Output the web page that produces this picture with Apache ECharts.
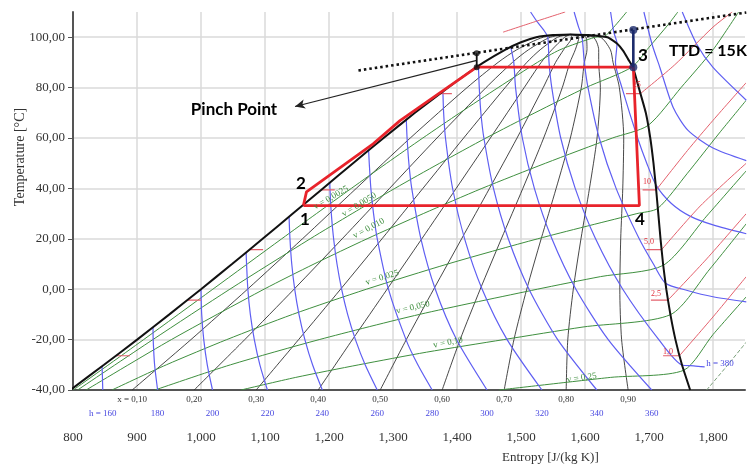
<!DOCTYPE html>
<html><head><meta charset="utf-8">
<script src="https://cdn.jsdelivr.net/npm/echarts@6/dist/echarts.min.js"></script>
<style>html,body{margin:0;padding:0;background:#fff}#c{width:749px;height:467px}</style>
</head><body><div id="c"></div>
<script>
// ---- axis ticks ----
const xTicks = [800, 900, 1000, 1100, 1200, 1300, 1400, 1500, 1600, 1700, 1800];
const yTicks = [-40, -20, 0, 20, 40, 60, 80, 100];

// ---- saturation dome [s J/(kg K), T °C] ----
const satLiquid = [[795.6,-40],[848.5,-30],[900.2,-20],[950.6,-10],[1000,0],[1048.5,10],[1096.3,20],[1143.5,30],[1190.5,40],[1237.6,50],[1285.3,60],[1334.3,70],[1385.9,80],[1413,85],[1441.7,90],[1475,95],[1500,98],[1523.8,100],[1550,100.9],[1577,101.1]];
const satVapor = [[1577,101.1],[1605,100.9],[1635,100],[1650,97.5],[1660,94.5],[1668,91],[1675,88],[1684,80],[1695,70],[1702,60],[1707,50],[1711,40],[1714.5,30],[1718,20],[1722,10],[1727,0],[1733.4,-10],[1741.3,-20],[1751.5,-30],[1764.3,-40]];

// ---- quality lines x = 0.1 ... 0.9 ----
const q10 = [[892.5,-40],[984.3,-20],[1072.7,0],[1158.5,20],[1242.6,40],[1327.0,60],[1415.7,80],[1464.2,90],[1493.3,95],[1534.9,100],[1577,101.1]];
const q20 = [[989.3,-40],[1068.4,-20],[1145.4,0],[1220.6,20],[1294.6,40],[1368.7,60],[1445.4,80],[1486.6,90],[1511.6,95],[1546.0,100],[1577,101.1]];
const q30 = [[1086.2,-40],[1152.5,-20],[1218.1,0],[1282.8,20],[1346.7,40],[1410.4,60],[1475.2,80],[1509.1,90],[1529.9,95],[1557.2,100],[1577,101.1]];
const q40 = [[1183.1,-40],[1236.6,-20],[1290.8,0],[1345.0,20],[1398.7,40],[1452.1,60],[1505.0,80],[1531.5,90],[1548.2,95],[1568.3,100],[1577,101.1]];
const q50 = [[1280.0,-40],[1320.8,-20],[1363.6,0],[1407.2,20],[1450.8,40],[1493.8,60],[1534.7,80],[1554.0,90],[1566.5,95],[1579.4,100],[1577,101.1]];
const q60 = [[1376.8,-40],[1404.9,-20],[1436.3,0],[1469.3,20],[1502.9,40],[1535.4,60],[1564.5,80],[1576.5,90],[1584.8,95],[1590.5,100],[1577,101.1]];
const q70 = [[1473.7,-40],[1489.0,-20],[1509.0,0],[1531.5,20],[1554.9,40],[1577.1,60],[1594.2,80],[1598.9,90],[1603.1,95],[1601.6,100],[1577,101.1]];
const q80 = [[1570.6,-40],[1573.1,-20],[1581.7,0],[1593.7,20],[1607.0,40],[1618.8,60],[1624.0,80],[1621.4,90],[1621.4,95],[1612.8,100],[1577,101.1]];
const q90 = [[1667.4,-40],[1657.2,-20],[1654.4,0],[1655.8,20],[1659.0,40],[1660.5,60],[1653.7,80],[1643.8,90],[1639.7,95],[1623.9,100],[1577,101.1]];
const qualityLabels = ['x = 0,10','0,20','0,30','0,40','0,50','0,60','0,70','0,80','0,90'];

// ---- isenthalps h (kJ/kg) ----
const h160 = [[845.4,-30.6],[846.0,-35],[846.5,-40]];
const h180 = [[925,-15.1],[925.3,-20],[927.5,-30],[932.2,-40]];
const h200 = [[1000,0],[1001.1,-10],[1004.3,-20],[1009.8,-30],[1018.0,-40]];
const h220 = [[1070.5,14.6],[1071.2,10],[1073.2,0],[1077.1,-10],[1083.3,-20],[1092.0,-30],[1103.8,-40]];
const h240 = [[1137.6,28.7],[1139.0,20],[1141.8,10],[1146.4,0],[1153.1,-10],[1162.3,-20],[1174.3,-30],[1189.6,-40]];
const h260 = [[1201.3,42.3],[1201.5,40],[1203.6,30],[1207.2,20],[1212.5,10],[1219.7,0],[1229.1,-10],[1241.3,-20],[1256.5,-30],[1275.4,-40]];
const h280 = [[1261.9,55.1],[1262.9,50],[1265.4,40],[1269.6,30],[1275.4,20],[1292.9,0],[1320.3,-20],[1338.8,-30],[1361.2,-40]];
const h300 = [[1320.8,67.2],[1322.0,60],[1324.8,50],[1329.3,40],[1343.6,20],[1366.1,0],[1399.3,-20],[1446.9,-40]];
const h320 = [[1378,78.5],[1379.1,70],[1382.0,60],[1393.1,40],[1411.9,20],[1439.3,0],[1478.3,-20],[1532.7,-40]];
const h340 = [[1433.5,88.5],[1434.8,80],[1437.3,70],[1442.0,60],[1457.0,40],[1480.1,20],[1512.5,0],[1557.3,-20],[1618.5,-40]];
const h360 = [[1484,96.2],[1488.7,90],[1491.5,80],[1502.1,60],[1520.9,40],[1548.3,20],[1585.8,0],[1636.3,-20],[1704.3,-40]];
const h380 = [[1515,110],[1524,106.6],[1535,103],[1541.8,100],[1543.8,90],[1548.1,80],[1562.1,60],[1584.7,40],[1616.5,20],[1659.0,0],[1715.3,-20],[1751.7,-30.1],[1770,-30.4],[1787,-30.8]];
const h400 = [[1583,110],[1590,104],[1595.4,100],[1598.9,90],[1604.7,80],[1622.2,60],[1648.6,40],[1684.7,20],[1706.9,10],[1725.9,2.4],[1760,-0.5],[1800,-3],[1852,-5]];
const h420 = [[1640,110],[1645,102],[1650,97.5],[1647.6,90],[1657.7,80],[1682.2,60],[1696.5,50],[1711,41.3],[1735,34],[1764,29],[1800,25.5],[1852,22]];
const h440 = [[1692,110],[1705,97],[1717,88],[1738,72],[1761,63],[1800,56],[1852,51]];
const h460 = [[1752,110],[1775,97],[1800,88],[1852,75]];
const hLabels = ['h = 160','180','200','220','240','260','280','300','320','340','360'];

// ---- isochores v (m3/kg) ----
const v0025 = [[800.4,-40],[910.4,-20],[1018.5,0],[1126.1,20],[1180.4,30],[1234.9,40],[1290.2,50],[1346.6,60],[1404.6,70],[1464.3,80],[1525.6,90],[1560.8,95],[1615.9,100],[1630,100.3],[1645,104],[1665,110]];
const v0050 = [[807.2,-40],[924.8,-20],[1045.1,0],[1170.6,20],[1236.1,30],[1302.9,40],[1373.0,50],[1445.3,60],[1521.7,70],[1601.3,80],[1673,88.1],[1700,96],[1730,105],[1745,110]];
const v0100 = [[820.6,-40],[953.7,-20],[1098.5,0],[1176.6,10],[1259.5,20],[1347.3,30],[1439.0,40],[1538.4,50],[1642.9,60],[1698.6,65],[1750,80],[1800,95],[1840,110]];
const v0250 = [[860.9,-40],[945.9,-30],[1040.3,-20],[1143.0,-10],[1258.6,0],[1385.4,10],[1526.1,20],[1681.1,30],[1713.8,32.1],[1760,46],[1810,62],[1852,75]];
const v0500 = [[928.1,-40],[1046.1,-30],[1184.7,-20],[1341.4,-10],[1525.6,0],[1624.3,5],[1722.3,9.5],[1790,29],[1852,47]];
const v1000 = [[1062.6,-40],[1148,-35],[1246.6,-30],[1352.2,-25],[1473.0,-20],[1596.9,-15],[1733.5,-10.1],[1795,8],[1852,26]];
const v2500 = [[1465.9,-40],[1640,-35],[1754,-32.2],[1800,-18],[1852,-3]];
const v5000 = [[1790,-40],[1820,-31],[1852,-21]];
const vLabels = ['v = 0,0025','v = 0,0050','v = 0,010','v = 0,025','v = 0,050','v = 0,10','v = 0,25'];
const vLabelAt = [[1203,36.3],[1247,33.5],[1262,24.1],[1283,4.6],[1331,-7.3],[1386,-21.2],[1595,-35.2]];
const vLabelTilt = [30, 31, 28, 17, 13, 11, 8];

// ---- isobars p (bar) ----
const pTicksLiquid = [[[867,-26.4],[889,-26.4]],[[978.7,-4.3],[1000,-4.3]],[[1075.8,15.7],[1097,15.7]],[[1187.7,39.4],[1209,39.4]],[[1373,77.6],[1392,77.6]]];
const pTicksVapor = [[[1722,-26.4],[1747.6,-26.4]],[[1703,-4.3],[1729.8,-4.3]],[[1696,15.7],[1719.7,15.7]],[[1690,39.4],[1711.3,39.4]],[[1664,77.6],[1686.5,77.6]]];
const p1_0 = [[1747.6,-26.4],[1800,-11],[1852,5]];
const p2_5 = [[1729.8,-4.3],[1790,12],[1852,30]];
const p5_0 = [[1719.7,15.7],[1780,33],[1852,50]];
const p10 = [[1711.3,39.4],[1760,55],[1800,67],[1852,82]];
const p25 = [[1686.5,77.6],[1740,89],[1800,104],[1830,110]];
const p40 = [[1472,102],[1520,106],[1569,110]];
const pLabels = ['1,0','2,5','5,0','10','25'];
const pLabelAt = [[1729.7,-24.8],[1711,-1.7],[1700,18.9],[1697,42.7],[1681,81.2]];

// ---- ORC cycle and annotations ----
const cycle = [[1160,33.2],[1164.8,38.6],[1269,57.7],[1311,66.9],[1430.8,88.1],[1675.5,88.1],[1685,33.2],[1160,33.2]];
const ttdLine = [[1246,86.8],[1852,109.8]];
const ttdPoints = [[1675.5,88.1],[1675.5,102.9]];
const pinchPoints = [[1430.8,88.1],[1430.8,93.6]];
const pinchArrow = [[1430.8,90.8],[1146.9,72.5]];
const stateNames = ['1','2','3','4'];
const stateLabelAt = [[1162.5,27.6],[1156,42.1],[1690.6,92.7],[1686,27.7]];
const noteTexts = ['Pinch Point','TTD = 15K'];
const noteAt = [[1051.6,71.3],[1792,94.7]];

// ---- build chart ----
const SERIF = 'Liberation Serif';
function L(data, color, width, extra) {
  return Object.assign({type:'line', data:data, symbol:'none', silent:true, animation:false,
    smooth:0.25, lineStyle:{color:color, width:width}, z:2}, extra || {});
}
function labels(items, style, extra) {
  return Object.assign({type:'scatter', data:items, symbolSize:0.1, silent:true, animation:false, clip:false,
    itemStyle:{color:'transparent'}, z:20,
    label:Object.assign({show:true, formatter:'{b}', position:'inside', textBorderWidth:0, opacity:1}, style)}, extra || {});
}
const qualityLines = [q10,q20,q30,q40,q50,q60,q70,q80,q90];
const hLines = [h160,h180,h200,h220,h240,h260,h280,h300,h320,h340,h360,h380,h400,h420,h440,h460];
const vLines = [v0025,v0050,v0100,v0250,v0500,v1000,v2500];
const pLines = [p1_0,p2_5,p5_0,p10,p25,p40];

const series = [];
const QC = 'rgba(40,40,40,0.85)', HC = '#5f5ff2', VC = '#3f8f3f', PC = '#e3606c';
qualityLines.forEach(d => series.push(L(d, QC, 1)));
vLines.forEach(d => series.push(L(d, VC, 1)));
series.push(L(v5000, '#7a9f7a', 1, {lineStyle:{color:'#7a9f7a', width:1, type:'dashed'}}));
hLines.forEach(d => series.push(L(d, HC, 1.2)));
pLines.forEach(d => series.push(L(d, PC, 1)));
pTicksLiquid.forEach(d => series.push(L(d, PC, 1.2, {smooth:false})));
pTicksVapor.forEach(d => series.push(L(d, PC, 1.2, {smooth:false})));
series.push(L(satLiquid, '#111', 2, {z:5, smooth:0.15}));
series.push(L(satVapor, '#111', 2, {z:5, smooth:0.15}));
series.push(L(cycle, '#e8232b', 2.8, {z:6, smooth:false}));
series.push(L(ttdLine, '#111', 2.6, {z:7, smooth:false, lineStyle:{color:'#111', width:2.6, type:[2.5,3]}}));
series.push(L(pinchPoints, '#111', 1.8, {z:8, smooth:false,
  markLine:{silent:true, animation:false, symbol:['none','arrow'], symbolSize:[7,10],
    lineStyle:{color:'#222', width:1.2, type:'solid'}, label:{show:false},
    data:[[{coord:pinchArrow[0]},{coord:pinchArrow[1]}]]}}));
series.push({type:'scatter', data:pinchPoints, symbolSize:6, itemStyle:{color:'#111'}, silent:true, animation:false, z:9});
series.push(L(ttdPoints, '#1b2a6b', 2.6, {z:8, smooth:false}));
series.push({type:'scatter', data:ttdPoints, symbolSize:8, itemStyle:{color:'#1b2a6b'}, silent:true, animation:false, z:9});

// bottom labels (quality, enthalpy)
series.push(labels(qualityLines.map((d,i)=>({value:[d[0][0], -40], name:qualityLabels[i]})),
  {position:'bottom', distance:5, color:'#333', fontSize:9, fontFamily:SERIF}));
series.push(labels(hLines.slice(0,11).map((d,i)=>({value:[d[d.length-1][0], -40], name:hLabels[i]})),
  {position:'bottom', distance:19, color:'#4848e0', fontSize:9, fontFamily:SERIF}));
series.push(labels([{value:[1811,-29.6], name:'h = 380'}], {color:'#4848e0', fontSize:9, fontFamily:SERIF}));
// isochore labels
vLabels.forEach((t,i)=>series.push(labels([{value:vLabelAt[i], name:t}],
  {color:'#3f8f3f', fontSize:9, fontFamily:SERIF, rotate:vLabelTilt[i]})));
// isobar labels
series.push(labels(pLabels.map((t,i)=>({value:pLabelAt[i], name:t})),
  {color:'#e0303c', fontSize:8, fontFamily:SERIF}));
// state point numbers & notes
series.push(labels(stateNames.map((t,i)=>({value:stateLabelAt[i], name:t})),
  {color:'#000', fontSize:17, fontWeight:'bold', fontFamily:'Lato'}));
series.push(labels([{value:noteAt[0], name:noteTexts[0]}],
  {color:'#000', fontSize:17, fontWeight:'bold', fontFamily:'Lato'}));
series.push(labels([{value:noteAt[1], name:noteTexts[1]}],
  {color:'#000', fontSize:16, fontWeight:'bold', fontFamily:'Lato'}));

const chart = echarts.init(document.getElementById('c'), null, {renderer:'canvas'});
chart.setOption({
  animation:false,
  backgroundColor:'#fff',
  grid:{left:73, right:4, top:12, bottom:77, containLabel:false},
  xAxis:{type:'value', min:xTicks[0], max:1850, interval:100,
    axisLine:{show:true, onZero:false, lineStyle:{color:'#555', width:2}},
    axisTick:{show:false},
    axisLabel:{margin:41, color:'#333', fontFamily:SERIF, fontSize:13, showMaxLabel:false},
    splitLine:{show:true, showMinLine:false, showMaxLine:false, lineStyle:{color:'#dadada', width:1.5}}},
  yAxis:{type:'value', min:yTicks[0], max:110, interval:20,
    axisLine:{show:true, onZero:false, lineStyle:{color:'#555', width:2}},
    axisTick:{show:true, length:5, lineStyle:{color:'#555', width:1}},
    axisLabel:{margin:8, color:'#333', fontFamily:SERIF, fontSize:13, showMaxLabel:false,
      formatter:v => v.toFixed(2).replace('.', ',')},
    splitLine:{show:true, showMinLine:false, showMaxLine:false, lineStyle:{color:'#dadada', width:1.5}}},
  graphic:[
    {type:'text', left:502, top:451, style:{text:'Entropy [J/(kg K)]', font:'13px "Liberation Serif"', fill:'#333'}},
    {type:'text', x:20, y:157, rotation:Math.PI/2,
      style:{text:'Temperature [°C]', font:'14px "Liberation Serif"', fill:'#333', align:'center', verticalAlign:'middle'}}
  ],
  series:series
});
</script></body></html>
